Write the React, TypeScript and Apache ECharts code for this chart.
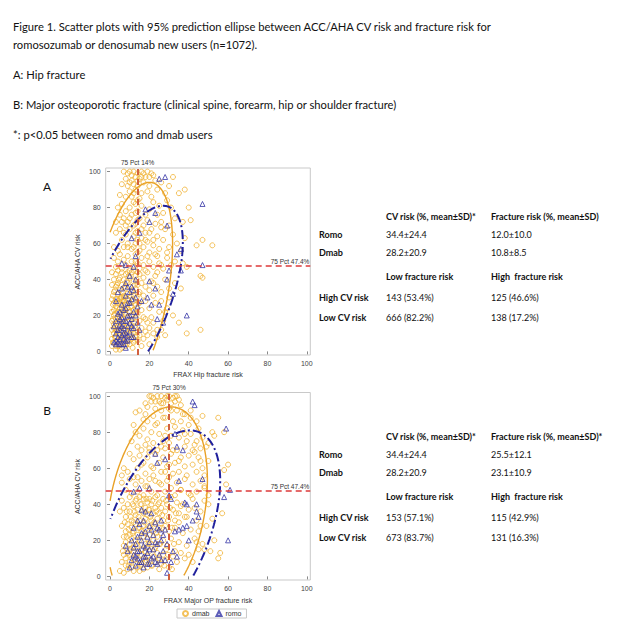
import React, { useEffect, useRef } from "react";
import * as echarts from "echarts";

// ---------- data ----------
const dmabA: number[][] = [
  [7,100],[9,99],[10,100],[12,100],[14,99],[16,100],[19,100],[21,99],[8,96],[11,95],[13,97],[15,96],[18,97],[22,98],[6,93],[9,92],[12,93],[14,92],[17,94],[20,92],[23,95],[26,94],[10,89],[13,90],[16,88],[19,89],[24,90],[28,88],[32,97],[35,88],[38,90],[30,92],[5,87],[8,86],[15,85],[21,86],
  [4,80],[6,82],[8,78],[10,80],[12,83],[14,78],[16,81],[18,76],[20,79],[22,83],[25,81],[27,77],[29,84],[31,80],[33,74],[40,80],[41,73],[7,74],[9,72],[11,76],[13,71],[15,74],[17,70],[19,73],[23,71],[26,72],[30,70],[5,76],[3,72],[37,72],[14,84],[24,76],
  [3,66],[5,68],[6,62],[8,65],[9,60],[10,68],[11,57],[12,64],[13,60],[14,67],[15,56],[16,63],[17,58],[18,66],[19,61],[20,55],[21,68],[22,59],[24,64],[25,57],[27,62],[28,68],[30,58],[32,65],[34,60],[36,56],[44,59],[47,62],[52,59],[2,58],[4,56],[7,58],[26,69],[29,55],[38,63],
  [2,52],[3,47],[4,50],[5,54],[6,46],[7,51],[8,48],[9,53],[10,45],[11,50],[12,47],[13,54],[14,49],[15,46],[16,52],[17,48],[18,45],[19,53],[20,50],[22,47],[23,54],[25,49],[27,46],[29,52],[31,48],[33,50],[37,49],[39,47],[47,41],[46,42],
  [1,44],[2,40],[3,36],[3,43],[4,32],[4,38],[5,41],[5,34],[6,44],[6,37],[7,31],[7,40],[8,35],[8,43],[9,38],[9,32],[10,41],[10,36],[11,33],[11,44],[12,39],[12,31],[13,42],[13,35],[14,37],[15,33],[15,43],[16,38],[17,31],[17,41],[18,36],[19,44],[20,34],[21,39],[22,31],[23,42],[24,36],[26,33],[28,40],[30,35],[33,38],[36,35],[2,33],[1,37],[6,30],[9,44],[4,45],[12,45],
  [1,29],[1,22],[1,17],[2,27],[2,20],[2,15],[3,25],[3,18],[3,29],[4,22],[4,16],[4,27],[5,19],[5,24],[5,29],[6,16],[6,21],[6,26],[7,18],[7,23],[7,28],[8,16],[8,21],[8,26],[9,19],[9,24],[9,29],[10,17],[10,22],[10,27],[11,20],[11,25],[12,16],[12,23],[12,28],[13,19],[13,26],[14,21],[15,17],[15,27],[16,23],[17,19],[18,28],[19,16],[20,24],[21,19],[23,27],[25,22],[27,17],[29,24],[32,20],[35,16],[2,23],[4,19],[6,28],[8,23],
  [1,12],[1,7],[1,3],[2,10],[2,5],[2,13],[3,8],[3,3],[3,12],[4,6],[4,10],[4,14],[5,4],[5,9],[5,13],[6,7],[6,11],[6,2],[7,5],[7,9],[7,14],[8,3],[8,8],[8,12],[9,6],[9,11],[10,4],[10,9],[10,13],[11,7],[11,12],[12,5],[12,10],[13,8],[13,13],[14,6],[14,11],[15,9],[16,13],[17,7],[18,11],[19,9],[20,13],[22,10],[24,8],[26,12],[28,9],[39,10],[46,12],[3,1],[5,1],
  [1.5,5],[2.5,8],[3.5,11],[4.5,3],[5.5,6],[6.5,9],[7.5,12],[8.5,4],[9.5,7],[10.5,10],[11.5,2],[12.5,6],[13.5,9],[1.5,18],[2.5,21],[3.5,24],[4.5,17],[5.5,20],[6.5,23],[7.5,26],[8.5,19],[9.5,22],[10.5,25],[11.5,18],[12.5,21],[13.5,24],[14.5,27],[1.5,31],[2.5,34],[3.5,37],[4.5,40],[5.5,30],[6.5,33],[7.5,36],[8.5,39],[9.5,42],[10.5,31],[11.5,34],[12.5,37],[13.5,40],[14.5,32],[2.5,14],[4.5,12],[6.5,15],[8.5,14],[10.5,15],[12.5,14],[1.5,26],[3.5,29],[5.5,27],[7.5,30],[9.5,28],[11.5,29],[13.5,30],
  [14,55],[14,62],[13,66],[12,70],[14,73],[13,77],[12,88],[14,95],[11,98],[13,82],[15,60],[14,44],[13,50],[12,58],[11,86],[10,94],[16,97],[17,99],[20,97],[9,58],[7,66],[8,70],[6,72],[10,74],[16,68],[18,62],[20,66],[22,62],[24,53],[26,48],[24,44],[22,38],[26,28],[28,22],[30,30],[24,12],[20,4],[16,3],[18,18],[22,16]
];
const romoA: number[][] = [
  [25,96],[28,97],[47,82],[18,79],[23,77],[20,72],[29,70],[11,63],[15,66],[34,54],[36,57],[47,48],[36,45],[29,40],[32,32],[39,20],[8,2],[6,49],[8,48],[10,42],[13,53],[20,39],[23,35],[19,30],[25,26],[24,18],[27,16],[21,26],[12,47],[30,45],
  [2,5],[3,10],[3,17],[4,8],[4,21],[5,12],[5,4],[5,15],[6,9],[6,19],[6,26],[7,7],[7,13],[7,23],[8,10],[8,17],[8,31],[9,6],[9,14],[9,20],[9,36],[10,11],[10,27],[10,33],[11,8],[11,18],[11,36],[12,22],[12,13],[13,30],[13,40],[14,25],[14,16],[15,12],[16,28],[4,33],[3,28],[2,14],[6,35],[5,7],[4,5],[7,4],[3,4],
  [3,6],[4,12],[5,18],[6,4],[6,14],[7,10],[8,6],[8,24],[9,9],[10,16],[10,20],[11,14],[12,8],[13,20],[5,22],[7,17],[9,27],[11,29],[12,34],[8,38]
];
const dmabB: number[][] = [
  [20,100],[22,99],[24,100],[26,100],[28,99],[30,100],[32,99],[34,100],[21,97],[25,97],[27,96],[29,98],[31,96],[33,97],[36,95],[19,94],[23,93],[26,92],[30,93],[34,92],[38,90],[41,88],[44,86],[47,89],[18,90],[15,92],[13,91],[17,87],[22,89],[28,88],[32,86],[36,86],[40,84],[53,78],[55,88],[24,85],
  [13,80],[15,78],[17,82],[19,76],[21,80],[23,84],[25,79],[27,75],[29,82],[31,78],[33,83],[35,77],[37,81],[39,75],[41,79],[43,73],[45,82],[47,77],[49,72],[52,80],[58,80],[11,75],[14,72],[16,70],[18,73],[20,71],[22,74],[24,70],[26,72],[28,71],[30,74],[34,70],[38,72],[42,70],[46,71],[50,74],[12,84],
  [10,68],[12,65],[14,60],[15,67],[17,63],[18,57],[19,66],[21,61],[22,56],[23,68],[25,63],[26,58],[27,66],[29,61],[30,55],[31,68],[33,63],[35,58],[36,66],[38,61],[39,56],[40,67],[42,62],[44,58],[45,66],[47,60],[48,56],[50,64],[58,59],[60,62],[7,60],[6,56],[9,58],[20,69],[32,57],[43,69],
  [6,52],[8,48],[10,54],[11,46],[13,51],[14,47],[16,53],[17,45],[19,50],[21,47],[23,53],[24,45],[26,51],[28,47],[29,53],[31,49],[33,45],[34,52],[36,48],[38,54],[40,46],[42,51],[44,47],[46,53],[48,49],[50,45],[59,51],[12,55],[20,54],
  [5,36],[6,42],[7,38],[8,33],[9,40],[10,36],[10,44],[11,31],[12,39],[13,34],[13,42],[14,37],[15,31],[15,44],[16,40],[17,35],[17,43],[18,32],[18,38],[19,41],[19,34],[20,37],[20,43],[21,31],[21,40],[22,35],[23,38],[23,44],[24,32],[25,41],[25,35],[26,38],[27,43],[27,31],[28,36],[29,40],[30,33],[31,44],[32,37],[33,31],[34,41],[35,35],[36,39],[38,33],[40,37],[42,43],[44,31],[46,36],[48,42],[57,35],[12,30],
  [6,28],[7,22],[7,17],[8,25],[8,19],[9,29],[9,15],[10,23],[10,18],[11,27],[11,21],[12,16],[12,25],[13,20],[13,29],[14,17],[14,23],[15,27],[15,20],[16,15],[16,25],[17,22],[17,28],[18,18],[18,26],[19,21],[19,16],[20,28],[20,23],[21,18],[22,25],[22,20],[23,29],[23,16],[24,22],[25,27],[25,18],[26,24],[27,20],[28,28],[29,17],[30,25],[31,21],[33,27],[35,19],[37,24],[39,17],[41,26],[43,21],[45,15],[47,18],[53,20],[49,28],
  [5,3],[6,8],[7,12],[7,2],[8,6],[8,10],[9,13],[9,4],[10,8],[10,12],[11,5],[11,10],[12,14],[12,3],[13,7],[13,11],[14,5],[14,13],[15,9],[15,3],[16,7],[16,12],[17,4],[17,10],[18,14],[18,8],[19,11],[19,5],[20,9],[20,14],[21,6],[22,11],[23,8],[24,13],[25,4],[25,10],[26,7],[27,12],[28,9],[30,5],[32,11],[34,8],[36,13],[38,10],[55,10],[56,13],[51,14],[48,15],
  [9.5,6],[10.5,15],[11.5,24],[12.5,9],[13.5,18],[14.5,27],[15.5,6],[16.5,15],[17.5,24],[18.5,9],[19.5,18],[20.5,27],[21.5,6],[22.5,15],[23.5,24],[24.5,9],[25.5,18],[26.5,27],[27.5,6],[28.5,15],[10.5,33],[11.5,40],[12.5,36],[13.5,43],[14.5,33],[15.5,40],[16.5,36],[17.5,30],[18.5,43],[19.5,37],[20.5,33],[21.5,42],[22.5,30],[23.5,36],[24.5,40],[26.5,34],[28.5,42],[8.5,22],[9.5,26],[7.5,30],[6.5,14],[8.5,36],[29.5,31],[30.5,38],[31.5,27],[32.5,18],[33.5,35],[29.5,12],[31.5,4],[33,14],
  [35,30],[37,40],[39,33],[41,45],[43,38],[45,25],[40,12],[42,8],[44,19],[46,28],[36,48],[30,62],[32,70],[28,78],[27,88],[31,92],[26,96],[23,97],[19,86],[16,62],[14,55],[18,50],[22,60],[25,52],[28,58],[35,64],[38,79],[41,92],[44,75],[46,64],[48,50],[50,40],[52,32],[21,100],[33,100],[29,100],[18,96],[35,98],[37,90]
];
const romoB: number[][] = [
  [42,97],[43,95],[59,82],[33,79],[34,72],[37,70],[23,68],[24,63],[47,54],[61,48],[58,44],[35,53],[15,49],[20,49],[12,47],[31,43],[38,41],[39,40],[44,40],[44,36],[45,33],[42,31],[39,28],[37,27],[35,26],[33,25],[40,20],[60,20],[32,14],[34,11],[31,8],[29,2],[30,45],[28,65],[8,17],
  [10,5],[11,9],[12,12],[13,6],[13,18],[14,10],[14,22],[15,14],[15,29],[16,8],[16,20],[17,11],[17,31],[18,16],[18,25],[19,7],[19,13],[20,19],[20,28],[21,10],[21,35],[22,15],[22,23],[23,8],[23,30],[24,18],[25,12],[25,26],[26,20],[27,14],[28,9],[26,31],[11,20],[9,14],[18,36],[16,37],[12,27],[24,7],
  [12,16],[14,14],[15,8],[16,24],[17,17],[18,11],[19,22],[20,15],[21,26],[22,11],[23,19],[24,27],[13,11],[17,5],[20,7],[26,9],[27,23],[29,18],[28,26],[14,31]
];

// 95% prediction ellipse parameters: [centerX, centerY, halfWidth, halfHeight, cosAngle]
const ellipseDmab: number[][] = [[10.8, 33, 21, 61, 0.44], [24, 38, 25.5, 56, 0.275]];
const ellipseRomo: number[][] = [[12, 30, 25, 51, 0.6], [25, 25, 31, 56, 0.5]];

const pctX = [14, 30];
const pctY = [47.4, 47.4];
const axisTicks = [0, 20, 40, 60, 80, 100];
const panelLetters = ["A", "B"];
const xNames = ["FRAX Hip fracture risk", "FRAX Major OP fracture risk"];
const yName = "ACC/AHA CV risk";

const captionLines = [
  "Figure 1. Scatter plots with 95% prediction ellipse between ACC/AHA CV risk and fracture risk for",
  "romosozumab or denosumab new users (n=1072).",
  "A: Hip fracture",
  "B: Major osteoporotic fracture (clinical spine, forearm, hip or shoulder fracture)",
  "*: p<0.05 between romo and dmab users",
];

const tableHeaders = [
  ["CV risk (%, mean±SD)*", "Fracture risk (%, mean±SD)"],
  ["CV risk (%, mean±SD)*", "Fracture risk (%, mean±SD)*"],
];
const groupRows = ["Romo", "Dmab"];
const romoStats = [["34.4±24.4", "12.0±10.0"], ["34.4±24.4", "25.5±12.1"]];
const dmabStats = [["28.2±20.9", "10.8±8.5"], ["28.2±20.9", "23.1±10.9"]];
const riskHeaders = ["Low fracture risk", "High  fracture risk"];
const riskRows = ["High CV risk", "Low CV risk"];
const highCV = [["143 (53.4%)", "125 (46.6%)"], ["153 (57.1%)", "115 (42.9%)"]];
const lowCV = [["666 (82.2%)", "138 (17.2%)"], ["673 (83.7%)", "131 (16.3%)"]];

// ---------- helpers ----------
function ellipsePoints(p: number[]) {
  const [cx, cy, A, B, c] = p;
  const alpha = Math.acos(c);
  const n = 360;
  const out: any[] = [];
  for (let i = 0; i <= n; i++) {
    const t = alpha + Math.PI + (i / n) * 2 * Math.PI;
    const x = cx + A * Math.cos(t);
    const y = cy + B * Math.cos(t - alpha);
    if (x < 0 || y < 0 || x > 100 || y > 100) out.push(null);
    else out.push([x, y]);
  }
  return out;
}

const CAP_FONT = "Lato, 'Open Sans', sans-serif";
const AX_FONT = "'Liberation Sans', Arial, sans-serif";
const DMAB = "#F0B232";
const ROMO = "#3535A6";

function txt(x: number, y: number, text: string, size: number, weight: any = "normal", extra: any = {}) {
  return {
    type: "text",
    x,
    y,
    silent: true,
    style: { text, fontSize: size, fontFamily: CAP_FONT, fontWeight: weight, fill: "#111", verticalAlign: "middle", ...extra },
  };
}

export default function App() {
  const ref = useRef<HTMLDivElement>(null);
  useEffect(() => {
    if (!ref.current) return;
    const chart = echarts.init(ref.current, undefined, { renderer: "svg" });

    const gridTops = [168, 392.5];
    const gridHeights = [187, 187.5];
    const grids = gridTops.map((top, i) => ({
      left: 105.7,
      top,
      width: 204.6,
      height: gridHeights[i],
      show: true,
      borderColor: "#c9c9c9",
      borderWidth: 1,
      backgroundColor: "transparent",
      containLabel: false,
    }));

    const axisCommon = (i: number) => ({
      gridIndex: i,
      type: "value",
      axisLine: { show: false },
      axisTick: { show: true, customValues: axisTicks, length: 3, lineStyle: { color: "#8a8a8a" } },
      axisLabel: { customValues: axisTicks, fontSize: 7, color: "#444", fontFamily: AX_FONT, margin: 5 },
      splitLine: { show: false },
    });

    const xAxes = [0, 1].map((i) => ({ ...axisCommon(i), min: -2.2, max: 101.8 }));
    const yAxes = [0, 1].map((i) => ({ ...axisCommon(i), min: -2, max: 102 }));

    const series: any[] = [];
    const dmabData = [dmabA, dmabB];
    const romoData = [romoA, romoB];
    [0, 1].forEach((i) => {
      series.push({
        type: "scatter",
        name: "dmab",
        xAxisIndex: i,
        yAxisIndex: i,
        symbol: "circle",
        symbolSize: 5,
        z: 2,
        itemStyle: { color: "rgba(255,255,255,0)", borderColor: DMAB, borderWidth: 1 },
        data: dmabData[i],
        markLine: {
          silent: true,
          symbol: "none",
          z: 6,
          data: [
            {
              xAxis: pctX[i],
              lineStyle: { color: "#D2603F", width: 2, type: [6, 4] },
              label: { show: true, position: "end", formatter: `75 Pct ${pctX[i]}%`, fontSize: 6.5, color: "#333", fontFamily: AX_FONT, distance: 2 },
            },
            {
              yAxis: pctY[i],
              lineStyle: { color: "#DD3A3A", width: 1.5, type: [6, 4] },
              label: { show: true, position: "insideEndTop", formatter: `75 Pct ${pctY[i]}%`, fontSize: 6.5, color: "#333", fontFamily: AX_FONT, distance: 1 },
            },
          ],
        },
      });
      series.push({
        type: "scatter",
        name: "romo",
        xAxisIndex: i,
        yAxisIndex: i,
        symbol: "triangle",
        symbolSize: 5,
        z: 3,
        itemStyle: { color: "rgba(255,255,255,0)", borderColor: ROMO, borderWidth: 1 },
        data: romoData[i],
      });
      series.push({
        type: "line",
        name: "dmab ellipse",
        xAxisIndex: i,
        yAxisIndex: i,
        showSymbol: false,
        symbol: "none",
        silent: true,
        connectNulls: false,
        z: 4,
        lineStyle: { color: "#E9A126", width: 1.4 },
        data: ellipsePoints(ellipseDmab[i]),
      });
      series.push({
        type: "line",
        name: "romo ellipse",
        xAxisIndex: i,
        yAxisIndex: i,
        showSymbol: false,
        symbol: "none",
        silent: true,
        connectNulls: false,
        z: 5,
        lineStyle: { color: "#20209C", width: 2, type: [9, 3, 2, 3] },
        data: ellipsePoints(ellipseRomo[i]),
      });
    });

    const graphics: any[] = [];
    const capY = [26, 44.5, 74, 104.5, 134.5];
    captionLines.forEach((t, k) => graphics.push(txt(13, capY[k], t, 11.2)));

    const letterY = [186, 410];
    const xNameY = [374, 600];
    const yNameY = [262, 486.5];
    const tableTop = [216.7, 436.7];
    [0, 1].forEach((i) => {
      graphics.push(txt(47, letterY[i], panelLetters[i], 12, "normal", { align: "center" }));
      graphics.push({
        type: "text", x: 208, y: xNameY[i], silent: true,
        style: { text: xNames[i], fontSize: 7, fontFamily: AX_FONT, fill: "#333", align: "center", verticalAlign: "middle" },
      });
      graphics.push({
        type: "text", x: 77, y: yNameY[i], rotation: Math.PI / 2, silent: true,
        style: { text: yName, fontSize: 7, fontFamily: AX_FONT, fill: "#333", align: "center", verticalAlign: "middle" },
      });
      const t0 = tableTop[i];
      const c0 = 319, c1 = 386, c2 = 491;
      const fs = 9;
      graphics.push(txt(c1, t0, tableHeaders[i][0], fs, "bold"));
      graphics.push(txt(c2, t0, tableHeaders[i][1], fs, "bold"));
      graphics.push(txt(c0, t0 + 17.6, groupRows[0], fs, "bold"));
      graphics.push(txt(c1, t0 + 17.6, romoStats[i][0], fs));
      graphics.push(txt(c2, t0 + 17.6, romoStats[i][1], fs));
      graphics.push(txt(c0, t0 + 36, groupRows[1], fs, "bold"));
      graphics.push(txt(c1, t0 + 36, dmabStats[i][0], fs));
      graphics.push(txt(c2, t0 + 36, dmabStats[i][1], fs));
      graphics.push(txt(c1, t0 + 59.3, riskHeaders[0], fs, "bold"));
      graphics.push(txt(c2, t0 + 59.3, riskHeaders[1], fs, "bold"));
      graphics.push(txt(c0, t0 + 80.6, riskRows[0], fs, "bold"));
      graphics.push(txt(c1, t0 + 80.6, highCV[i][0], fs));
      graphics.push(txt(c2, t0 + 80.6, highCV[i][1], fs));
      graphics.push(txt(c0, t0 + 100.6, riskRows[1], fs, "bold"));
      graphics.push(txt(c1, t0 + 100.6, lowCV[i][0], fs));
      graphics.push(txt(c2, t0 + 100.6, lowCV[i][1], fs));
    });

    chart.setOption({
      animation: false,
      backgroundColor: "#ffffff",
      grid: grids,
      xAxis: xAxes,
      yAxis: yAxes,
      legend: {
        data: ["dmab", "romo"],
        left: 177,
        top: 609,
        orient: "horizontal",
        selectedMode: false,
        itemWidth: 5,
        itemHeight: 5,
        itemGap: 6,
        padding: [1, 5, 1, 5],
        borderColor: "#c8c8c8",
        borderWidth: 1,
        textStyle: { fontSize: 7, color: "#333", fontFamily: AX_FONT, padding: [0, 0, 0, -1] },
      },
      graphic: graphics,
      series,
    });
    return () => chart.dispose();
  }, []);
  return (
    <div
      ref={ref}
      style={{ position: "absolute", left: 0, top: 0, width: 633, height: 639, background: "#fff" }}
    />
  );
}
